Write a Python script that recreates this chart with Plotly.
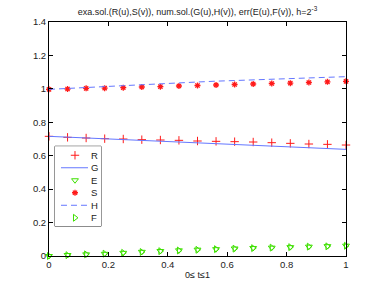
import plotly.graph_objects as go

# ---- data ----
t = [0.0, 0.0625, 0.125, 0.1875, 0.25, 0.3125, 0.375, 0.4375, 0.5,
     0.5625, 0.625, 0.6875, 0.75, 0.8125, 0.875, 0.9375, 1.0]
R = [0.716, 0.710, 0.706, 0.702, 0.700, 0.696, 0.694, 0.692, 0.688,
     0.686, 0.684, 0.682, 0.678, 0.674, 0.670, 0.668, 0.664]
G = [0.716, 0.711, 0.706, 0.701, 0.696, 0.691, 0.686, 0.681, 0.676,
     0.672, 0.667, 0.662, 0.657, 0.653, 0.648, 0.643, 0.638]
E = [0.000, 0.006, 0.010, 0.013, 0.019, 0.025, 0.030, 0.034, 0.038,
     0.041, 0.045, 0.048, 0.050, 0.053, 0.056, 0.059, 0.062]
S = [0.997, 0.999, 1.003, 1.004, 1.007, 1.011, 1.013, 1.017, 1.020,
     1.023, 1.026, 1.029, 1.032, 1.034, 1.038, 1.042, 1.045]
H = [0.997, 1.003, 1.009, 1.015, 1.020, 1.026, 1.031, 1.037, 1.041,
     1.046, 1.050, 1.054, 1.058, 1.062, 1.066, 1.069, 1.073]
F = [0.000, 0.005, 0.010, 0.014, 0.019, 0.024, 0.029, 0.033, 0.037,
     0.041, 0.044, 0.047, 0.050, 0.053, 0.056, 0.058, 0.061]

names = ["R", "G", "E", "S", "H", "F"]
x_ticks = [0, 0.2, 0.4, 0.6, 0.8, 1.0]
x_ticklabels = ["0", "0.2", "0.4", "0.6", "0.8", "1"]
y_ticks = [0, 0.2, 0.4, 0.6, 0.8, 1.0, 1.2, 1.4]
y_ticklabels = ["0", "0.2", "0.4", "0.6", "0.8", "1", "1.2", "1.4"]

title = "exa.sol.(R(u),S(v)), num.sol.(G(u),H(v)), err(E(u),F(v)), h=2<sup>-3</sup>"
xlabel = "0≤ t≤1"

RED = "#ff1a1a"
BLUE = "#6577ff"
GREEN = "#3ee000"
FONT = "Liberation Sans, Arial, sans-serif"

styles = {
    "R": dict(mode="markers", marker=dict(symbol="cross-thin-open", size=6, color=RED, line=dict(color=RED, width=1))),
    "G": dict(mode="lines", line=dict(color=BLUE, width=1)),
    "E": dict(mode="markers", marker=dict(symbol="triangle-down-open", size=6, color=GREEN, line=dict(color=GREEN, width=1))),
    "S": dict(mode="markers", marker=dict(symbol="asterisk-open", size=5, color=RED, line=dict(color=RED, width=1.3))),
    "H": dict(mode="lines", line=dict(color=BLUE, width=1, dash="6px,4px")),
    "F": dict(mode="markers", marker=dict(symbol="triangle-right-open", size=6, color=GREEN, line=dict(color=GREEN, width=1))),
}
series = {"R": R, "G": G, "E": E, "S": S, "H": H, "F": F}

fig = go.Figure()
for n in names:
    fig.add_trace(go.Scatter(x=t, y=series[n], name=n, showlegend=False,
                             cliponaxis=False, **styles[n]))

# ---- hand-made legend box (MATLAB style, compact rows) ----
leg_rows = [9, 21.5, 34, 46.5, 59, 71.5]
for n, ry in zip(names, leg_rows):
    st = styles[n]
    if st["mode"] == "lines":
        fig.add_trace(go.Scatter(x=[6, 33], y=[ry, ry], mode="lines", line=st["line"],
                                 xaxis="x2", yaxis="y2", showlegend=False, hoverinfo="skip"))
    else:
        fig.add_trace(go.Scatter(x=[20], y=[ry], mode="markers", marker=st["marker"],
                                 xaxis="x2", yaxis="y2", showlegend=False, hoverinfo="skip",
                                 cliponaxis=False))
    fig.add_annotation(x=34, y=ry, xref="x2", yref="y2", text=n, showarrow=False,
                       xanchor="left", yanchor="middle", font=dict(size=9.5, color="#222", family=FONT))

fig.add_shape(type="rect", xref="paper", yref="paper", x0=0.0202, x1=0.1751, y0=0.127, y1=0.469,
              line=dict(color="#333", width=1), fillcolor="white", layer="below")

axis_common = dict(showline=True, linecolor="black", linewidth=1, mirror="ticks",
                   ticks="inside", ticklen=4, tickcolor="black", showgrid=False, zeroline=False,
                   automargin=False,
                   tickfont=dict(size=9.5, color="#222", family=FONT))

fig.update_layout(
    width=382, height=287, autosize=False,
    margin=dict(l=49, r=36, t=22, b=31, pad=0),
    paper_bgcolor="white", plot_bgcolor="white",
    font=dict(family=FONT, color="#222"),
    title=dict(text=title, x=0.5, xref="paper", xanchor="center",
               y=1 - 12 / 287, yref="container", yanchor="middle",
               font=dict(size=9, color="#222", family=FONT)),
    xaxis=dict(range=[0, 1], tickvals=x_ticks, ticktext=x_ticklabels,
               title=dict(text=xlabel, standoff=2, font=dict(size=9, color="#222", family=FONT)),
               **axis_common),
    yaxis=dict(range=[0, 1.4], tickvals=y_ticks, ticktext=y_ticklabels, **axis_common),
    xaxis2=dict(domain=[0.0202, 0.1751], range=[0, 46], visible=False, anchor="y2", fixedrange=True),
    yaxis2=dict(domain=[0.127, 0.469], range=[80, 0], visible=False, anchor="x2", fixedrange=True),
    showlegend=False,
    hovermode=False,
)

fig.write_html("out.html", config={"displayModeBar": False, "staticPlot": True},
               post_script="document.body.style.margin='0';")
